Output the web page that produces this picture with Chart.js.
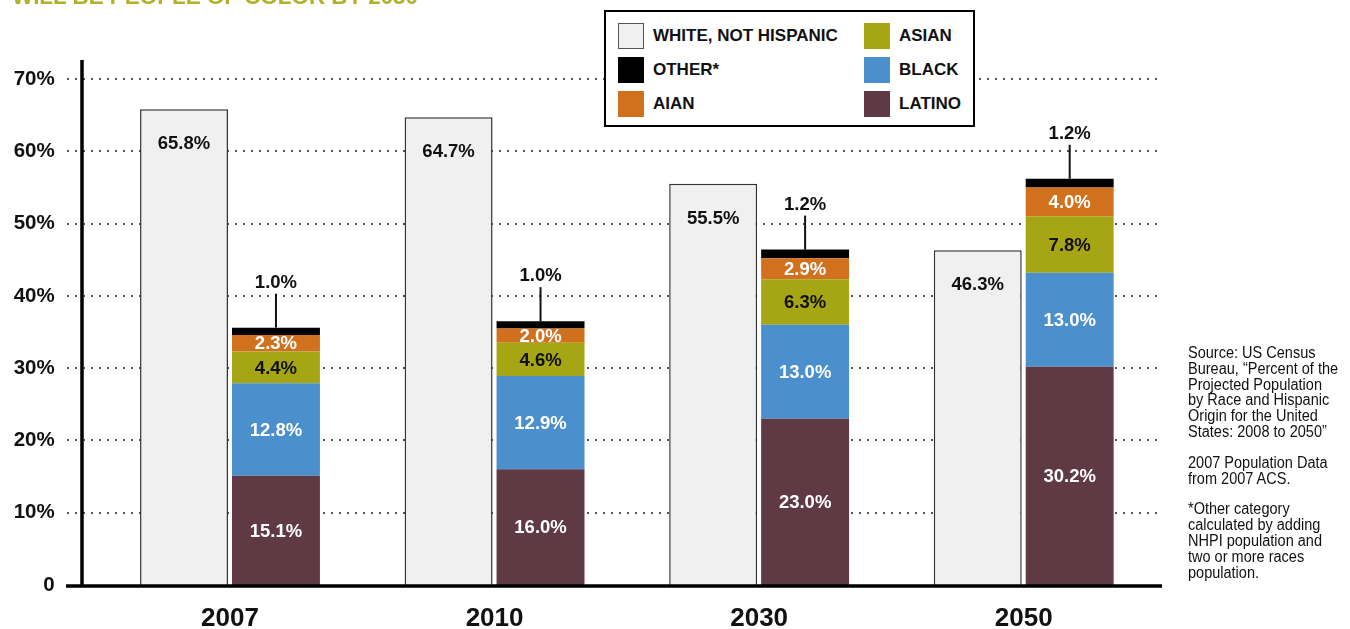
<!DOCTYPE html>
<html>
<head>
<meta charset="utf-8">
<script src="https://cdn.jsdelivr.net/npm/chart.js@4.4.1/dist/chart.umd.min.js"></script>
<style>
    body { margin: 0; background: #fff; font-family: "Liberation Sans", Arial, sans-serif; }
    #wrap { position: relative; width: 1350px; height: 629px; overflow: hidden; }
    #chart { position: absolute; left: 0; top: 0; }
    #title {
        position: absolute; left: 12px; top: -14px; line-height: 22px;
        font-size: 22.4px; font-weight: bold; color: #b0b02a; white-space: nowrap;
    }
    #legend {
        position: absolute; left: 604px; top: 10px; width: 367px; height: 113px;
        border: 2px solid #000; background: #fff;
    }
    .item { position: absolute; height: 26px; line-height: 26px; font-size: 17px; font-weight: bold; color: #111; white-space: nowrap; }
    .item span { display: inline-block; width: 26px; height: 26px; vertical-align: top; margin-right: 9px; box-sizing: border-box; }
    #source {
        position: absolute; left: 1188px; top: 345px;
        font-family: "Liberation Sans", Arial, sans-serif;
        font-size: 17.3px; line-height: 15.8px; color: #111; white-space: nowrap;
        transform: scaleX(0.84); transform-origin: 0 0;
    }
    #source p { margin: 0 0 15px 0; }
</style>
</head>
<body>
<div id="wrap">
    <canvas id="chart" width="1350" height="629"></canvas>
    <div id="title">WILL BE PEOPLE OF COLOR BY 2050</div>
    <div id="legend"></div>
    <div id="source">
        <p>Source: US Census<br>Bureau, “Percent of the<br>Projected Population<br>by Race and Hispanic<br>Origin for the United<br>States: 2008 to 2050”</p>
        <p>2007 Population Data<br>from 2007 ACS.</p>
        <p>*Other category<br>calculated by adding<br>NHPI population and<br>two or more races<br>population.</p>
    </div>
</div>
<script>
// Số liệu (%)
const years = ['2007', '2010', '2030', '2050'];
const white = [65.8, 64.7, 55.5, 46.3];
const latino = [15.1, 16.0, 23.0, 30.2];
const black = [12.8, 12.9, 13.0, 13.0];
const asian = [4.4, 4.6, 6.3, 7.8];
const aian = [2.3, 2.0, 2.9, 4.0];
const other = [1.0, 1.0, 1.2, 1.2];
const yTicks = [0, 10, 20, 30, 40, 50, 60, 70];

const colors = {
    white: '#f0f0f0',
    other: '#000000',
    aian: '#d2711d',
    asian: '#a6a513',
    black: '#4b8fcd',
    latino: '#5f3944'
};

// Chú thích (2 cột)
const legendItems = [
    { text: 'WHITE, NOT HISPANIC', color: colors.white, col: 0, row: 0, border: true },
    { text: 'OTHER*', color: colors.other, col: 0, row: 1 },
    { text: 'AIAN', color: colors.aian, col: 0, row: 2 },
    { text: 'ASIAN', color: colors.asian, col: 1, row: 0 },
    { text: 'BLACK', color: colors.black, col: 1, row: 1 },
    { text: 'LATINO', color: colors.latino, col: 1, row: 2 }
];
const legendBox = document.getElementById('legend');
legendItems.forEach(function (it) {
    const div = document.createElement('div');
    div.className = 'item';
    div.style.left = (it.col ? 258 : 12) + 'px';
    div.style.top = (11 + it.row * 34) + 'px';
    const sw = document.createElement('span');
    sw.style.background = it.color;
    if (it.border) sw.style.border = '1.5px solid #555';
    div.appendChild(sw);
    div.appendChild(document.createTextNode(it.text));
    legendBox.appendChild(div);
});

const labelFont = 'bold 18.5px "Liberation Sans", Arial, sans-serif';

// Đường lưới chấm và trục
const axesPlugin = {
    id: 'axesPlugin',
    beforeDatasetsDraw(chart) {
        const ctx = chart.ctx;
        const y = chart.scales.y;
        ctx.save();
        ctx.strokeStyle = '#555';
        ctx.lineWidth = 2;
        ctx.setLineDash([2, 6]);
        yTicks.forEach(function (v) {
            if (v === 0) return;
            const py = Math.round(y.getPixelForValue(v));
            ctx.beginPath();
            ctx.moveTo(67, py);
            ctx.lineTo(1161, py);
            ctx.stroke();
        });
        ctx.restore();
    },
    afterDatasetsDraw(chart) {
        const ctx = chart.ctx;
        const y = chart.scales.y;
        const base = y.getPixelForValue(0);
        ctx.save();
        ctx.strokeStyle = '#000';
        ctx.lineWidth = 3.5;
        ctx.beginPath();
        ctx.moveTo(82, 60);
        ctx.lineTo(82, base + 1);
        ctx.moveTo(66, base + 1);
        ctx.lineTo(1162, base + 1);
        ctx.stroke();
        ctx.restore();
    }
};

// Nhãn giá trị trên từng đoạn
const valueLabels = {
    id: 'valueLabels',
    afterDatasetsDraw(chart) {
        const ctx = chart.ctx;
        ctx.save();
        ctx.font = labelFont;
        ctx.textAlign = 'center';
        ctx.textBaseline = 'middle';
        chart.data.datasets.forEach(function (ds, di) {
            const meta = chart.getDatasetMeta(di);
            meta.data.forEach(function (bar, i) {
                const txt = ds.data[i].toFixed(1) + '%';
                if (ds.key === 'white') {
                    ctx.fillStyle = '#111';
                    ctx.fillText(txt, bar.x, bar.y + 35);
                } else if (ds.key === 'other') {
                    ctx.strokeStyle = '#111';
                    ctx.lineWidth = 2;
                    ctx.beginPath();
                    ctx.moveTo(bar.x, bar.y);
                    ctx.lineTo(bar.x, bar.y - 34);
                    ctx.stroke();
                    ctx.fillStyle = '#111';
                    ctx.fillText(txt, bar.x, bar.y - 45);
                } else {
                    ctx.fillStyle = ds.key === 'asian' ? '#111' : '#fff';
                    ctx.fillText(txt, bar.x, (bar.y + bar.base) / 2 + 1);
                }
            });
        });
        ctx.restore();
    }
};

function seg(key, label, data, stack) {
    return {
        key: key,
        label: label,
        data: data,
        stack: stack,
        backgroundColor: colors[key],
        borderColor: key === 'white' ? '#333' : colors[key],
        borderWidth: key === 'white' ? 1.5 : 0,
        borderSkipped: key === 'white' ? 'bottom' : false,
        barPercentage: 0.9565,
        categoryPercentage: 0.695
    };
}

const chart = new Chart(document.getElementById('chart').getContext('2d'), {
    type: 'bar',
    data: {
        labels: years,
        datasets: [
            seg('white', 'WHITE, NOT HISPANIC', white, 'w'),
            seg('latino', 'LATINO', latino, 's'),
            seg('black', 'BLACK', black, 's'),
            seg('asian', 'ASIAN', asian, 's'),
            seg('aian', 'AIAN', aian, 's'),
            seg('other', 'OTHER*', other, 's')
        ]
    },
    options: {
        responsive: false,
        animation: false,
        layout: { padding: { left: 0, right: 194, top: 79, bottom: 0 } },
        plugins: {
            legend: { display: false },
            tooltip: { enabled: false }
        },
        scales: {
            x: {
                stacked: true,
                grid: { display: false, drawTicks: false },
                border: { display: false },
                ticks: {
                    color: '#111',
                    padding: 18,
                    font: { family: '"Liberation Sans", Arial, sans-serif', size: 26, weight: 'bold' }
                },
                afterFit(scale) { scale.height = 44; }
            },
            y: {
                stacked: true,
                min: 0,
                max: 70,
                grid: { display: false, drawTicks: false },
                border: { display: false },
                afterBuildTicks(scale) {
                    scale.ticks = yTicks.map(function (v) { return { value: v }; });
                },
                ticks: {
                    color: '#111',
                    padding: 43,
                    font: { family: '"Liberation Sans", Arial, sans-serif', size: 20.5, weight: 'bold' },
                    callback: function (v) { return v === 0 ? '0' : v + '%'; }
                },
                afterFit(scale) {
                    // chỉ giữ nửa chiều cao nhãn, bỏ phần padding ngang
                    scale.width = 97.7;
                    scale.paddingTop = 12;
                    scale.paddingBottom = 12;
                }
            }
        }
    },
    plugins: [axesPlugin, valueLabels]
});
</script>
</body>
</html>
